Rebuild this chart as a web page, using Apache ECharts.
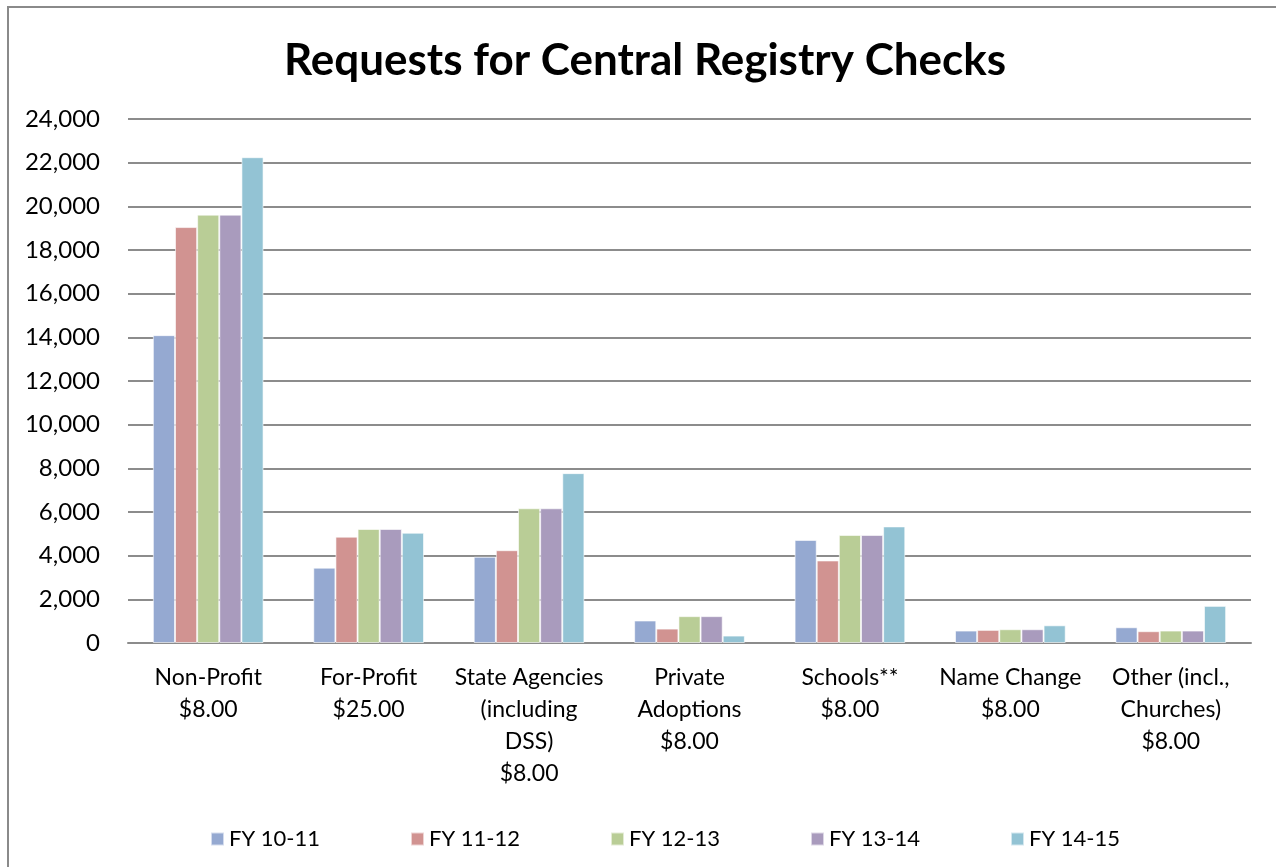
<!DOCTYPE html>
<html>
<head>
<meta charset="utf-8">
<script src="https://cdn.jsdelivr.net/npm/echarts@6/dist/echarts.min.js"></script>
<style>
  html, body { margin: 0; padding: 0; background: #fff; }
  #chart { width: 1276px; height: 867px; }
</style>
</head>
<body>
<div id="chart"></div>
<script>
const categories = [
  'Non-Profit\n$8.00',
  'For-Profit\n$25.00',
  'State Agencies\n(including\nDSS)\n$8.00',
  'Private\nAdoptions\n$8.00',
  'Schools**\n$8.00',
  'Name Change\n$8.00',
  'Other (incl.,\nChurches)\n$8.00',
]
const seriesNames = ['FY 10-11', 'FY 11-12', 'FY 12-13', 'FY 13-14', 'FY 14-15']
const fy1011 = [14100, 3450, 3950, 1030, 4720, 570, 720]
const fy1112 = [19050, 4870, 4250, 660, 3780, 600, 540]
const fy1213 = [19620, 5220, 6170, 1230, 4950, 630, 570]
const fy1314 = [19620, 5220, 6170, 1230, 4950, 630, 570]
const fy1415 = [22250, 5050, 7780, 340, 5340, 810, 1700]
const colorList = ['#95A9D1', '#D19391', '#B9CD96', '#A99BBD', '#93C3D4']

const fontFamily = 'Lato, "Open Sans", sans-serif'
const myChart = echarts.init(document.getElementById('chart'))
const seriesData = [fy1011, fy1112, fy1213, fy1314, fy1415]

// one legend per series so every item sits on a fixed 200px step
const legends = seriesNames.map((name, i) => {
  return {
    left: 205 + i * 200,
    top: 823,
    icon: 'rect',
    itemWidth: 13,
    itemHeight: 13,
    itemGap: 0,
    textStyle: {
      fontFamily,
      fontSize: 22,
      color: '#000',
    },
    data: [name],
  }
})

const option = {
  backgroundColor: '#fff',
  color: colorList,
  animation: false,
  title: {
    text: 'Requests for Central Registry Checks',
    left: 640,
    top: 34,
    textAlign: 'center',
    textStyle: {
      fontFamily,
      fontSize: 44,
      fontWeight: 'bold',
      color: '#000',
    },
  },
  graphic: [
    {
      type: 'rect',
      shape: { x: 8, y: 7, width: 1290, height: 900 },
      style: { fill: 'none', stroke: '#8a8a8a', lineWidth: 2 },
      silent: true,
    },
  ],
  legend: legends,
  grid: {
    left: 128,
    right: 25,
    top: 119,
    bottom: 224,
    containLabel: false,
  },
  xAxis: {
    type: 'category',
    data: categories,
    axisLine: { show: true, lineStyle: { color: '#8c8c8c', width: 2 } },
    axisTick: { show: false },
    axisLabel: {
      interval: 0,
      margin: 19,
      fontFamily,
      fontSize: 23,
      lineHeight: 32,
      color: '#000',
    },
  },
  yAxis: {
    type: 'value',
    min: 0,
    max: 24000,
    interval: 2000,
    axisLine: { show: false },
    axisTick: { show: false },
    axisLabel: {
      margin: 28,
      fontFamily,
      fontSize: 24,
      color: '#000',
      formatter: (v) => v.toLocaleString('en-US'),
    },
    splitLine: { lineStyle: { color: '#8c8c8c', width: 2 } },
  },
  series: seriesNames.map((name, i) => {
    return {
      name,
      type: 'bar',
      data: seriesData[i],
      barGap: '0%',
      barCategoryGap: '31%',
      itemStyle: {
        borderColor: 'rgba(255,255,255,0.6)',
        borderWidth: 1,
      },
    }
  }),
}
myChart.setOption(option, true)
</script>
</body>
</html>
